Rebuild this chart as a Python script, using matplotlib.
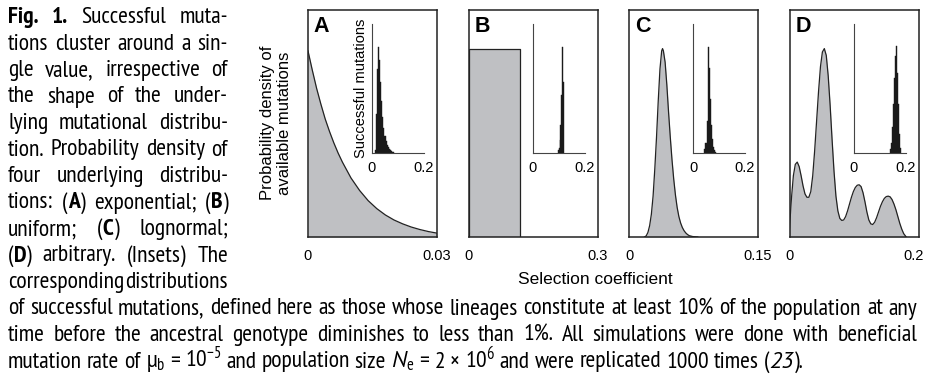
import re
import matplotlib
matplotlib.use("Agg")
import matplotlib.pyplot as plt
import matplotlib.transforms as mtransforms
from matplotlib import font_manager

# ---------------- data ----------------
panel_letters = ["A", "B", "C", "D"]
xmax_main = [0.03, 0.3, 0.15, 0.2]
xticklabels_main = [["0", "0.03"], ["0", "0.3"], ["0", "0.15"], ["0", "0.2"]]

# A: exponential density of available mutations
exp_s = [0.000, 0.001, 0.002, 0.003, 0.004, 0.005, 0.006, 0.007, 0.008, 0.009,
         0.010, 0.012, 0.014, 0.016, 0.018, 0.020, 0.022, 0.024, 0.026, 0.028, 0.030]
exp_y = [0.82, 0.735, 0.655, 0.585, 0.52, 0.465, 0.415, 0.37, 0.33, 0.295,
         0.26, 0.205, 0.16, 0.125, 0.097, 0.075, 0.058, 0.044, 0.033, 0.024, 0.017]

# B: uniform
unif_s = [0.0, 0.0, 0.12, 0.12]
unif_y = [0.0, 0.83, 0.83, 0.0]

# C: lognormal
logn_s = [0.018, 0.020, 0.022, 0.024, 0.026, 0.028, 0.030, 0.032, 0.034, 0.036,
          0.038, 0.039, 0.040, 0.042, 0.044, 0.046, 0.048, 0.050, 0.052, 0.054,
          0.056, 0.058, 0.060, 0.062, 0.064, 0.066, 0.068, 0.070, 0.074, 0.080]
logn_y = [0.0, 0.005, 0.02, 0.05, 0.10, 0.18, 0.30, 0.44, 0.60, 0.74,
          0.82, 0.83, 0.82, 0.77, 0.67, 0.55, 0.44, 0.34, 0.255, 0.185,
          0.13, 0.09, 0.062, 0.042, 0.028, 0.018, 0.011, 0.006, 0.002, 0.0]

# D: arbitrary
arb_s = [0.000, 0.003, 0.006, 0.009, 0.012, 0.015, 0.018, 0.021, 0.024, 0.027,
         0.030, 0.033, 0.036, 0.039, 0.042, 0.045, 0.048, 0.051, 0.054, 0.057,
         0.060, 0.063, 0.066, 0.069, 0.072, 0.075, 0.078, 0.081, 0.084, 0.087,
         0.090, 0.093, 0.096, 0.099, 0.102, 0.105, 0.108, 0.111, 0.114, 0.117,
         0.120, 0.123, 0.126, 0.129, 0.132, 0.135, 0.138, 0.141, 0.144, 0.147,
         0.150, 0.153, 0.156, 0.159, 0.162, 0.165, 0.168, 0.171, 0.174, 0.177, 0.181]
arb_y = [0.04, 0.17, 0.27, 0.32, 0.33, 0.31, 0.27, 0.225, 0.19, 0.175,
         0.175, 0.20, 0.27, 0.38, 0.51, 0.64, 0.75, 0.815, 0.83, 0.80,
         0.71, 0.58, 0.43, 0.29, 0.18, 0.115, 0.082, 0.073, 0.075, 0.09,
         0.115, 0.145, 0.175, 0.20, 0.218, 0.228, 0.23, 0.222, 0.195, 0.155,
         0.11, 0.075, 0.058, 0.055, 0.065, 0.085, 0.11, 0.135, 0.155, 0.17,
         0.178, 0.18, 0.177, 0.165, 0.145, 0.12, 0.09, 0.06, 0.035, 0.015, 0.0]

main_s = [exp_s, unif_s, logn_s, arb_s]
main_y = [exp_y, unif_y, logn_y, arb_y]

# insets: successful mutations (bin centres, heights)
bin_width = 0.004
ins_a_s = [0.014, 0.018, 0.022, 0.026, 0.030, 0.034, 0.038, 0.042, 0.046, 0.050,
           0.054, 0.058, 0.062, 0.066, 0.070, 0.074, 0.078, 0.082]
ins_a_h = [0.02, 0.30, 0.65, 0.82, 0.72, 0.55, 0.40, 0.28, 0.19, 0.13,
           0.09, 0.06, 0.045, 0.03, 0.02, 0.012, 0.008, 0.004]
ins_b_s = [0.100, 0.103, 0.106, 0.109, 0.112, 0.115, 0.118]
ins_b_h = [0.02, 0.04, 0.10, 0.22, 0.45, 0.82, 0.55]
ins_c_s = [0.046, 0.050, 0.054, 0.058, 0.062, 0.066, 0.070, 0.074, 0.078, 0.082, 0.086]
ins_c_h = [0.03, 0.08, 0.25, 0.82, 0.66, 0.42, 0.22, 0.11, 0.05, 0.02, 0.008]
ins_d_s = [0.142, 0.146, 0.150, 0.154, 0.158, 0.162, 0.166, 0.170, 0.174, 0.178, 0.182]
ins_d_h = [0.03, 0.08, 0.20, 0.38, 0.58, 0.75, 0.83, 0.62, 0.38, 0.15, 0.04]
ins_s = [ins_a_s, ins_b_s, ins_c_s, ins_d_s]
ins_h = [ins_a_h, ins_b_h, ins_c_h, ins_d_h]

# caption: '*' marks bold, '~' marks italic
caption_col = [
    "*Fig.* *1.* Successful muta-",
    "tions cluster around a sin-",
    "gle value, irrespective of",
    "the shape of the under-",
    "lying mutational distribu-",
    "tion. Probability density of",
    "four underlying distribu-",
    "tions: (*A*) exponential; (*B*)",
    "uniform; (*C*) lognormal;",
    "(*D*) arbitrary. (Insets) The",
    "corresponding distributions",
]
caption_full = [
    "of successful mutations, defined here as those whose lineages constitute at least 10% of the population at any",
    "time before the ancestral genotype diminishes to less than 1%. All simulations were done with beneficial",
    r"mutation rate of μ$_\mathrm{b}$ = 10$^{-5}$ and population size $N_\mathrm{e}$ = 2 × 10$^{6}$ and were replicated 1000 times (~23~).",
]

plt.rcParams["font.family"] = ["Liberation Sans", "DejaVu Sans"]
W, H = 925, 377
fig = plt.figure(figsize=(W / 100, H / 100), dpi=100)


def px_axes(x0, y0, x1, y1):
    return fig.add_axes([x0 / W, 1 - y1 / H, (x1 - x0) / W, (y1 - y0) / H])


fill_col = "#bfc0c3"
panel_left = [308, 468.5, 629, 789.5]
panel_w = 129
top, bottom = 10, 237

for i in range(4):
    x0 = panel_left[i]
    ax = px_axes(x0, top, x0 + panel_w, bottom)
    ax.fill_between(main_s[i], main_y[i], 0, color=fill_col, lw=0)
    ax.plot(main_s[i], main_y[i], color="#222222", lw=0.9)
    ax.set_xlim(0, xmax_main[i])
    ax.set_ylim(0, 1)
    ax.set_yticks([])
    ax.set_xticks([0, xmax_main[i]])
    ax.set_xticklabels(xticklabels_main[i])
    ax.tick_params(axis="x", length=0, pad=9, labelsize=10.5)
    if i == 3:
        lbl = ax.get_xticklabels()[1]
        lbl.set_transform(lbl.get_transform()
                          + mtransforms.ScaledTranslation(-0.05, 0, fig.dpi_scale_trans))
    for sp in ax.spines.values():
        sp.set_linewidth(1.1)
        sp.set_color("#222222")
    ax.text(0.045, 0.975, panel_letters[i], transform=ax.transAxes,
            ha="left", va="top", fontsize=15.5, fontweight="bold")

    axi = px_axes(x0 + 64, 24, x0 + 116, 153)
    axi.set_facecolor("none")
    axi.bar(ins_s[i], ins_h[i], width=bin_width, color="#1a1a1a",
            edgecolor="#1a1a1a", lw=0.3)
    axi.set_xlim(0, 0.2)
    axi.set_ylim(0, 1)
    axi.set_yticks([])
    axi.set_xticks([0, 0.2])
    axi.set_xticklabels(["0", "0.2"])
    axi.tick_params(axis="x", length=0, pad=6, labelsize=10.5)
    for k in ["top", "right"]:
        axi.spines[k].set_visible(False)
    for k in ["left", "bottom"]:
        axi.spines[k].set_linewidth(0.8)
        axi.spines[k].set_color("#444444")
    if i == 0:
        axi.set_ylabel("Successful mutations", fontsize=10.5, labelpad=3)

fig.text(276 / W, 1 - 123 / H, "Probability density of\navailable mutations",
         rotation=90, ha="center", va="center", multialignment="center", fontsize=12)
fig.text(595 / W, 1 - 280 / H, "Selection coefficient", ha="center", va="center", fontsize=12.5)

# ---------------- justified caption ----------------
renderer = fig.canvas.get_renderer()
ident = mtransforms.IdentityTransform()
min_gap = 0.5  # word spaces may shrink to half a space when justifying
fonts = font_manager.fontManager.ttflist
names = {f.name for f in fonts}
italic_names = {f.name for f in fonts if f.style == "italic"}
cap_family = "Liberation Sans"
ital_family = "Liberation Sans"


def use_caption_font(fam):
    global cap_family, ital_family
    cap_family = fam
    ital_family = fam
    if fam not in italic_names:
        for alt in ["PT Sans", "Fira Sans Condensed", "Roboto Condensed", "Liberation Sans"]:
            if alt in italic_names:
                ital_family = alt
                break
    plt.rcParams["mathtext.fontset"] = "custom"
    plt.rcParams["mathtext.rm"] = fam
    plt.rcParams["mathtext.it"] = ital_family + ":italic"
    plt.rcParams["mathtext.bf"] = fam + ":bold"


def runs_of(word):
    out = []
    bold = ital = False
    for piece in re.split(r"([*~])", word):
        if piece == "*":
            bold = not bold
        elif piece == "~":
            ital = not ital
        elif piece:
            out.append((piece, bold, ital))
    return out


def make_run(txt, bold, ital, size):
    return fig.text(0, 0, txt, transform=ident, fontsize=size,
                    family=[ital_family if ital else cap_family, "DejaVu Sans"],
                    fontweight="bold" if bold else "normal",
                    fontstyle="italic" if ital else "normal",
                    va="baseline", ha="left")


def width_of(t):
    return t.get_window_extent(renderer).width


def space_width(size):
    a = make_run("n n", False, False, size)
    b = make_run("nn", False, False, size)
    w = width_of(a) - width_of(b)
    a.remove()
    b.remove()
    return w


def natural_width(line, size, gap_factor=1.0):
    words = [[make_run(t, b, it, size) for t, b, it in runs_of(w)] for w in line.split(" ")]
    tot = sum(width_of(t) for parts in words for t in parts)
    for parts in words:
        for t in parts:
            t.remove()
    return tot + gap_factor * space_width(size) * (len(words) - 1)


def set_line(line, x0, x1, y, size, justify=True):
    words = [[make_run(t, b, it, size) for t, b, it in runs_of(w)] for w in line.split(" ")]
    widths = [[width_of(t) for t in parts] for parts in words]
    total = sum(sum(w) for w in widths)
    gap = space_width(size)
    if justify and len(words) > 1:
        gap = ((x1 - x0) - total) / (len(words) - 1)
    x = x0
    for parts, ws in zip(words, widths):
        for t, w in zip(parts, ws):
            t.set_position((x, H - y))
            x += w
        x += gap


def fitted_size():
    # size so the last (unjustified) line ends where it does in the print,
    # shrunk if any justified line would not fit
    size = 14.0
    size *= 860 / natural_width(caption_full[-1], size)
    need = max([natural_width(l, size, min_gap) / (917 - 8) for l in caption_full[:-1]]
               + [natural_width(l, size, min_gap) / (228 - 8) for l in caption_col])
    if need > 1.0:
        size /= need
    return size


# pick the condensed face that lets the caption run largest
best = None
for nm in ["Fira Sans Condensed", "PT Sans Narrow", "Roboto Condensed",
           "Asap Condensed", "Archivo Narrow", "IBM Plex Sans Condensed",
           "Encode Sans Condensed", "Liberation Sans Narrow"]:
    if nm in names:
        use_caption_font(nm)
        sz = fitted_size()
        if best is None or sz > best[1] + 0.2:
            best = (nm, sz)
if best is None:
    use_caption_font("Liberation Sans")
    best = ("Liberation Sans", fitted_size())
use_caption_font(best[0])
cap_size = best[1]

base0, step = 23, 26.5
for j, line in enumerate(caption_col):
    set_line(line, 8, 228, base0 + j * step, cap_size)
for j, line in enumerate(caption_full):
    set_line(line, 8, 917, base0 + (len(caption_col) + j) * step, cap_size,
             justify=(j < len(caption_full) - 1))

fig.savefig("out.png", dpi=100)
